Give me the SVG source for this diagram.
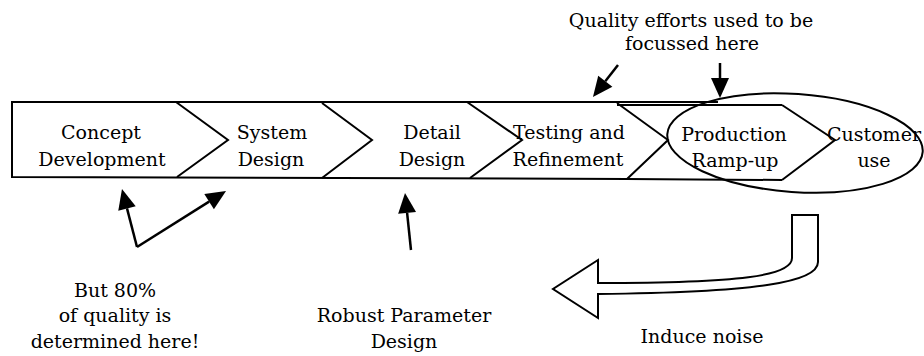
<svg xmlns="http://www.w3.org/2000/svg" width="924" height="356" viewBox="0 0 924 356">
  <style>
    .lbl { font-family: "DejaVu Serif", serif; font-size: 19px; fill: #000; text-anchor: middle; }
    .frame { fill: none; stroke: #000; stroke-width: 2; stroke-linejoin: miter; }
    .pointer { fill: none; stroke: #000; stroke-width: 2.5; marker-end: url(#head); }
    .hollow { fill: #fff; stroke: #000; stroke-width: 2; stroke-linejoin: miter; }
  </style>
  <defs>
    <marker id="head" markerUnits="userSpaceOnUse" markerWidth="20" markerHeight="18" refX="0" refY="9" orient="auto" overflow="visible">
      <path d="M0,0 L20,9 L0,18 Z" fill="#000"/>
    </marker>
  </defs>
  <rect width="924" height="356" fill="#fff"/>

  <!-- process bar outline -->
  <g id="bar">
    <polyline class="frame" points="718,102 12,102 12,177 627,179"/>
    <polyline class="frame" points="617,105 782,105"/>
    <polyline class="frame" points="627,179 782,180"/>
  </g>

  <g id="concept">
    <text class="lbl" x="101" y="139">Concept</text>
    <text class="lbl" x="102" y="166">Development</text>
  </g>
  <g id="system">
    <polyline class="frame" points="176,102 228,140 177,177"/>
    <text class="lbl" x="272" y="139">System</text>
    <text class="lbl" x="271" y="166">Design</text>
  </g>
  <g id="detail">
    <polyline class="frame" points="322,103 372,140 322,178"/>
    <text class="lbl" x="432" y="139">Detail</text>
    <text class="lbl" x="432" y="166">Design</text>
  </g>
  <g id="testing">
    <polyline class="frame" points="467,102 522,140 470,178"/>
    <text class="lbl" x="569" y="139">Testing and</text>
    <text class="lbl" x="568" y="166">Refinement</text>
  </g>
  <g id="production">
    <polyline class="frame" points="617,103 668,140 627,179"/>
    <text class="lbl" x="734" y="141">Production</text>
    <text class="lbl" x="735" y="167">Ramp-up</text>
  </g>
  <g id="customer">
    <polyline class="frame" points="782,105 835,140 782,180"/>
    <text class="lbl" x="874" y="141">Customer</text>
    <text class="lbl" x="874" y="167">use</text>
  </g>

  <!-- ring round the late stages -->
  <g id="focus-ring">
    <ellipse cx="795" cy="143" rx="128" ry="49" transform="rotate(4 795 143)" fill="none" stroke="#000" stroke-width="2"/>
  </g>

  <g id="note-top">
    <text class="lbl" x="691" y="27">Quality efforts used to be</text>
    <text class="lbl" x="692" y="50">focussed here</text>
  </g>
  <g id="note-80">
    <text class="lbl" x="115" y="297">But 80%</text>
    <text class="lbl" x="115" y="322">of quality is</text>
    <text class="lbl" x="115" y="348">determined here!</text>
  </g>
  <g id="note-robust">
    <text class="lbl" x="404" y="322">Robust Parameter</text>
    <text class="lbl" x="404" y="348">Design</text>
  </g>
  <g id="note-noise">
    <text class="lbl" x="702" y="343">Induce noise</text>
  </g>

  <g id="connectors">
    <line class="pointer" x1="137" y1="247" x2="127" y2="208.4"/>
    <line class="pointer" x1="137" y1="247" x2="209.1" y2="201.6"/>
    <line class="pointer" x1="411" y1="250" x2="407.1" y2="212.9"/>
    <line class="pointer" x1="618" y1="65" x2="605.3" y2="81.2"/>
    <line class="pointer" x1="720" y1="63" x2="720" y2="78"/>
    <path class="hollow" d="M792,215 L818,215 L818,262 C818,282 760,292 598,294 L598,318 L553,289 L598,260 L598,283 C740,283 792,276 792,258 Z"/>
  </g>
</svg>
